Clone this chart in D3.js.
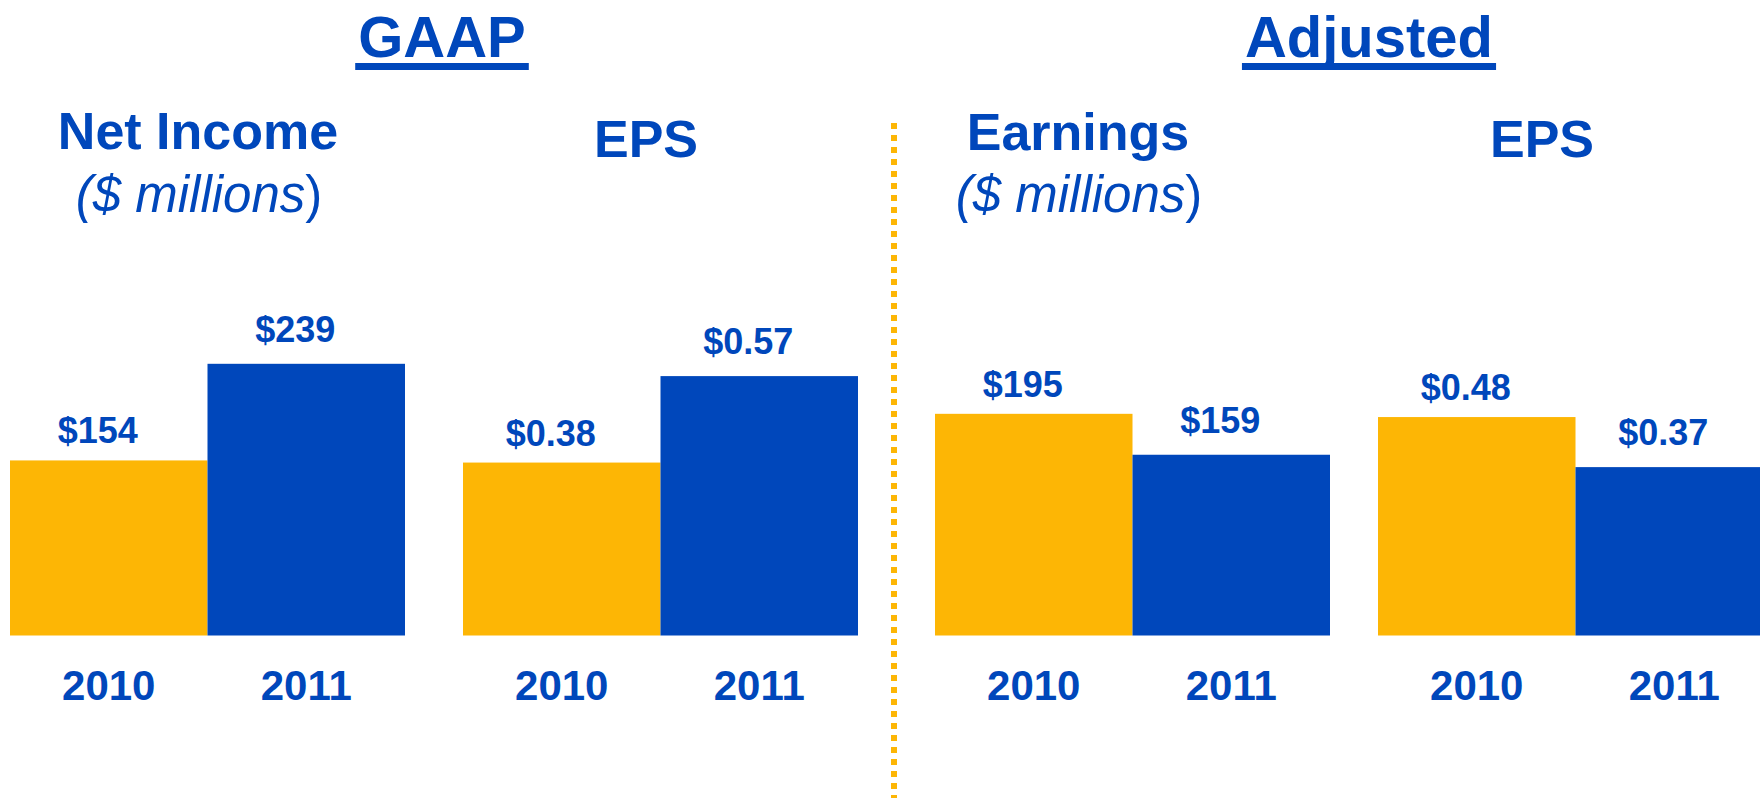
<!DOCTYPE html>
<html>
<head>
<meta charset="utf-8">
<script src="https://cdn.jsdelivr.net/npm/d3@7"></script>
<style>
  html, body { margin: 0; padding: 0; background: #fff; }
  svg { display: block; font-family: "Liberation Sans", Arial, sans-serif; }
</style>
</head>
<body>
<script>
// data
var years = ["2010", "2011"];
var gaapNetIncome = [154, 239];
var gaapEps = [0.38, 0.57];
var adjEarnings = [195, 159];
var adjEps = [0.48, 0.37];
var moneyLabels = ["$154", "$239"];
var gaapEpsLabels = ["$0.38", "$0.57"];
var adjEarnLabels = ["$195", "$159"];
var adjEpsLabels = ["$0.48", "$0.37"];

const width = 1760, height = 798;
const blue = "#0047BB", gold = "#FDB605";
const baseY = 635.5;

var svg = d3.select("body").append("svg").attr("width", width).attr("height", height);

// two kinds of value scale: $ millions and EPS
var yMoney = d3.scaleLinear().domain([0, 239]).range([baseY, baseY - 271.7]);
var yEps = d3.scaleLinear().domain([0, 0.57]).range([baseY, baseY - 259.4]);

var panels = [
  {x0: 10,   values: gaapNetIncome, labels: moneyLabels,   y: yMoney},
  {x0: 463,  values: gaapEps,       labels: gaapEpsLabels, y: yEps},
  {x0: 935,  values: adjEarnings,   labels: adjEarnLabels, y: yMoney},
  {x0: 1378, values: adjEps,        labels: adjEpsLabels,  y: yEps}
];

var colors = d3.scaleOrdinal().domain(years).range([gold, blue]);
var labelGap = [17, 22];

panels.forEach(function(p) {
  var x = d3.scaleBand().domain(years).range([p.x0, p.x0 + 395]).padding(0);
  var g = svg.append("g");
  var rows = years.map(function(yr, i) { return {year: yr, v: p.values[i], label: p.labels[i], i: i}; });

  g.selectAll("rect").data(rows).enter().append("rect")
    .attr("x", d => x(d.year))
    .attr("y", d => p.y(d.v))
    .attr("width", x.bandwidth() + (d => 0)())
    .attr("height", d => baseY - p.y(d.v))
    .attr("fill", d => colors(d.year));

  g.selectAll(".val").data(rows).enter().append("text")
    .attr("class", "val")
    .attr("x", d => x(d.year) + x.bandwidth() / 2 - 11)
    .attr("y", d => p.y(d.v) - labelGap[d.i])
    .attr("text-anchor", "middle")
    .attr("font-size", 36).attr("font-weight", "bold")
    .attr("fill", blue)
    .text(d => d.label);

  // year axis, no line or ticks
  var axis = g.append("g").attr("transform", "translate(0," + baseY + ")")
    .call(d3.axisBottom(x).tickSize(0).tickPadding(0));
  axis.select(".domain").remove();
  axis.selectAll("text")
    .attr("dy", null).attr("y", 64.5)
    .attr("font-size", 42).attr("font-weight", "bold")
    .attr("font-family", "'Liberation Sans', Arial, sans-serif")
    .attr("fill", blue);
});

// section titles with underline
function heading(txt, cx) {
  var t = svg.append("text").attr("x", cx).attr("y", 57)
    .attr("text-anchor", "middle").attr("font-size", 58).attr("font-weight", "bold")
    .attr("fill", blue).text(txt);
  var bb = t.node().getBBox();
  svg.append("rect").attr("x", bb.x - 3).attr("y", 63)
    .attr("width", bb.width + 6).attr("height", 7).attr("fill", blue);
}
heading("GAAP", 442);
heading("Adjusted", 1369);

function subTitle(txt, cx, y) {
  svg.append("text").attr("x", cx).attr("y", y)
    .attr("text-anchor", "middle").attr("font-size", 52).attr("font-weight", "bold")
    .attr("fill", blue).text(txt);
}
subTitle("Net Income", 198, 149);
subTitle("EPS", 646, 157);
subTitle("Earnings", 1078, 150);
subTitle("EPS", 1542, 157);

function units(cx) {
  var t = svg.append("text").attr("x", cx).attr("y", 212)
    .attr("text-anchor", "middle").attr("font-size", 51).attr("fill", blue);
  t.append("tspan").attr("font-style", "italic").text("($ millions");
  t.append("tspan").text(")");
}
units(199);
units(1079);

// dotted divider
svg.append("line")
  .attr("x1", 894).attr("x2", 894).attr("y1", 123).attr("y2", height)
  .attr("stroke", gold).attr("stroke-width", 6)
  .attr("stroke-dasharray", "6,6");
</script>
</body>
</html>
